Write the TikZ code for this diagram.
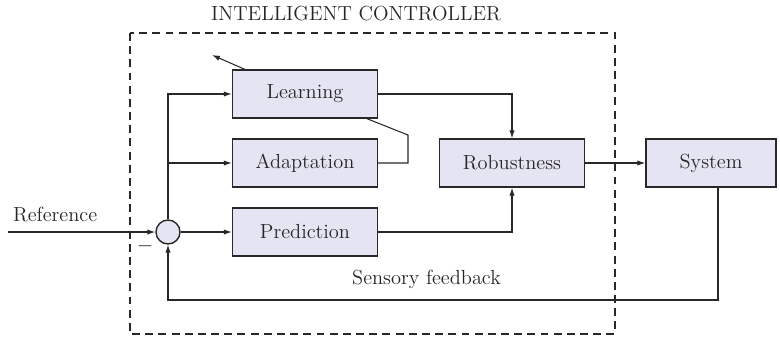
\documentclass[tikz,border=0pt]{standalone}
\usetikzlibrary{arrows.meta}
\definecolor{boxfill}{RGB}{228,228,242}
\definecolor{linegray}{RGB}{40,40,40}
\begin{document}
\begin{tikzpicture}[x=0.02cm, y=-0.02cm, >={Latex[length=4.5pt,width=3pt]},
  every node/.style={font=\fontsize{11.6}{14}\selectfont, text=black!85},
  block/.style={draw=linegray, line width=0.8pt, fill=boxfill, rectangle, minimum width=2.9cm, minimum height=0.96cm},
  conn/.style={draw=linegray, line width=0.6pt}]
\useasboundingbox (0,0) rectangle (780,343);

% Controlador
\draw[linegray, line width=0.6pt, dash pattern=on 4.5pt off 3pt] (130,33) rectangle (615,334);
\node (title) at (356,14) {INTELLIGENT CONTROLLER};

\node[draw=linegray, line width=0.8pt, fill=boxfill, circle, minimum size=0.48cm, inner sep=0pt] (sum) at (168,232) {};
\node[block] (learn) at (305,94) {Learning};
\node[block] (adapt) at (305,163) {Adaptation};
\node[block] (pred) at (305,232) {Prediction};
\node[block] (robust) at (512,163) {Robustness};
\node[block, minimum width=2.6cm] (sys) at (711,163) {System};

% Entrada
\coordinate (ref) at (8,232);
\coordinate (fb) at (718,300);
\coordinate (lout) at (212,55);
\draw[conn, ->] (ref) -- node[above=2pt, pos=0.32] {Reference} (sum);
\node (minus) at (145,246) {$-$};

% Conexoes
\draw[conn, ->] (sum) -- (pred);
\draw[conn, ->] (sum.north) |- (learn);
\draw[conn, ->] (sum.north) |- (adapt);
\draw[conn, ->] (learn) -| (robust.north);
\draw[conn, ->] (pred) -| (robust.south);
\draw[conn] (adapt.east) -- (408,163) -- (408,135) -- ([xshift=1.24cm]learn.south);
\draw[conn, ->] ([xshift=0.26cm]learn.north west) -- (lout);
\draw[conn, ->] (robust) -- (sys);

% Realimentacao
\draw[conn, ->] (sys.south -| fb) -- (fb) -- node[above=3pt, pos=0.53] {Sensory feedback} (fb -| sum) -- (sum.south);
\end{tikzpicture}
\end{document}
